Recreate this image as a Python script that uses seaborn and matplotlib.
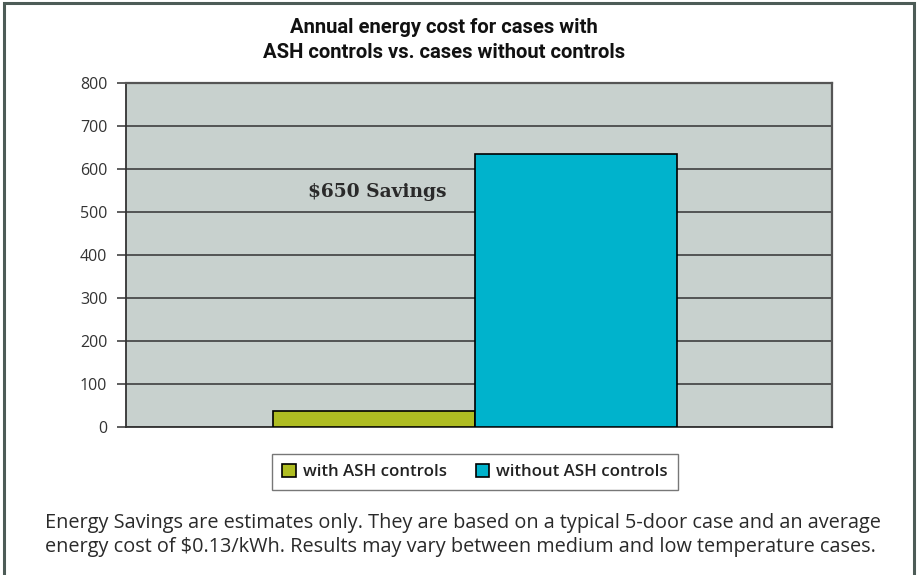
import matplotlib
matplotlib.use('Agg')
import matplotlib.pyplot as plt
import matplotlib.patches as mpatches
import seaborn as sns
import pandas as pd

# values
series = ["with ASH controls", "without ASH controls"]
annual_cost = [38, 635]
y_ticks = [0, 100, 200, 300, 400, 500, 600, 700, 800]
colors = ["#afbd22", "#00b3cc"]

title = "Annual energy cost for cases with\nASH controls vs. cases without controls"
note = ("Energy Savings are estimates only. They are based on a typical 5-door case and an average\n"
        "energy cost of $0.13/kWh. Results may vary between medium and low temperature cases.")

df = pd.DataFrame({"group": ["cost"] * len(series), "series": series, "cost": annual_cost})

sns.set_theme(style="white")
plt.rcParams['font.family'] = ['Open Sans', 'DejaVu Sans']

W, H = 917, 575
fig = plt.figure(figsize=(W / 100, H / 100), dpi=100)
fig.patch.set_facecolor("white")
ax = fig.add_axes([126 / W, 1 - 427 / H, 706 / W, 344 / H])
ax.set_facecolor("#c8d1ce")

sns.barplot(data=df, x="group", y="cost", hue="series", palette=colors,
            hue_order=series, width=0.8, saturation=1, edgecolor="black",
            linewidth=1.2, ax=ax, legend=False, zorder=3)

ax.set_ylim(0, 800)
ax.set_xlim(-0.691, 0.707)
ax.set_yticks(y_ticks)
ax.set_xticks([])
ax.set_xlabel("")
ax.set_ylabel("")
ax.grid(axis="y", color="#333333", linewidth=1.1, zorder=1)
ax.set_axisbelow(True)
ax.tick_params(axis="y", which="major", left=True, length=6.5, width=1.1,
               color="#333333", labelsize=11.5, labelcolor="#333333", pad=7)
for side in ["left", "bottom"]:
    ax.spines[side].set_color("#333333")
    ax.spines[side].set_linewidth(1.3)
for side in ["right", "top"]:
    ax.spines[side].set_color("#555555")
    ax.spines[side].set_linewidth(1.6)

ax.text(0.258, 0.683, "$650 Savings", transform=ax.transAxes,
        family="DejaVu Serif", fontweight="bold", fontsize=13.4,
        color="#2a2a2a", ha="left", va="center")

fig.text(444 / W, 1 - 40 / H, title, ha="center", va="center",
         fontsize=14.6, fontweight="bold", family="Roboto",
         color="#111111", linespacing=1.42)

handles = [mpatches.Patch(facecolor=c, edgecolor="black", linewidth=1.2, label=s)
           for c, s in zip(colors, series)]
leg = fig.legend(handles=handles, loc="center", bbox_to_anchor=(475 / W, 1 - 472 / H),
                 ncol=2, frameon=True, fancybox=False,
                 prop={"size": 12.2, "weight": "semibold"},
                 handlelength=0.8, handleheight=0.8, handletextpad=0.4,
                 columnspacing=1.7, borderpad=0.6)
leg.get_frame().set_edgecolor("#555555")
leg.get_frame().set_linewidth(1.0)
for t in leg.get_texts():
    t.set_color("#222222")

fig.text(45 / W, 1 - 535 / H, note, ha="left", va="center",
         fontsize=14.3, color="#2a2a2a", linespacing=1.27)

border = mpatches.Rectangle((4 / W, -0.05), 910 / W, 1.05 - 3 / H,
                            transform=fig.transFigure, fill=False,
                            edgecolor="#4d5c57", linewidth=2.2)
fig.patches.append(border)

fig.savefig("out.png", dpi=100)
